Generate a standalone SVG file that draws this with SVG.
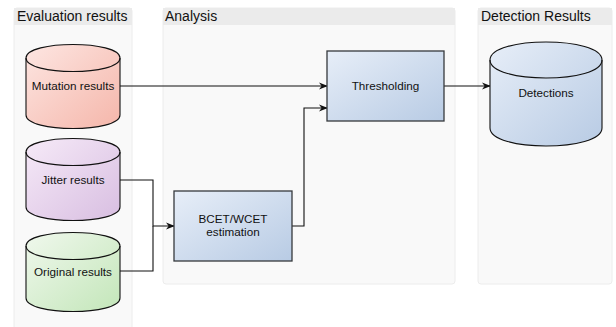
<svg xmlns="http://www.w3.org/2000/svg" width="616" height="327" viewBox="0 0 616 327">
<style>
.lane{fill:#f9f9f9;stroke:#ececec;stroke-width:1}
.band{fill:#ebebeb}
.title{font-family:"Liberation Sans",Arial,sans-serif;font-size:14px;fill:#111}
.lbl{font-family:"Liberation Sans",Arial,sans-serif;font-size:11.7px;fill:#111;text-anchor:middle}
.cyl{stroke:#111;stroke-width:1.1}
.box{stroke:#36393d;stroke-width:1.3}
.edge{fill:none;stroke:#111;stroke-width:1.1}
</style>
<defs>
<linearGradient id="gBlue" x1="0" y1="0" x2="1" y2="1"><stop offset="0" stop-color="#e7eef8"/><stop offset="1" stop-color="#b8cbe4"/></linearGradient>
<linearGradient id="gRed" x1="0" y1="0" x2="1" y2="1"><stop offset="0" stop-color="#fde6e2"/><stop offset="1" stop-color="#f5b6aa"/></linearGradient>
<linearGradient id="gPurple" x1="0" y1="0" x2="1" y2="1"><stop offset="0" stop-color="#f6eaf8"/><stop offset="1" stop-color="#d8bee1"/></linearGradient>
<linearGradient id="gGreen" x1="0" y1="0" x2="1" y2="1"><stop offset="0" stop-color="#f0f8ed"/><stop offset="1" stop-color="#c3e6b9"/></linearGradient>
<marker id="arr" viewBox="0 0 10 10" refX="9" refY="5" markerWidth="9" markerHeight="9" markerUnits="userSpaceOnUse" orient="auto">
<path d="M0,1 L10,5 L0,9 L3,5 Z" fill="#111"/>
</marker>
</defs>

<g id="lane-evaluation">
<rect class="lane" x="14" y="8" width="118" height="340" rx="3"/>
<rect class="band" x="14" y="8" width="118" height="17"/>
<text class="title" x="17" y="21">Evaluation results</text>
</g>
<g id="lane-analysis">
<rect class="lane" x="163" y="8" width="292" height="276" rx="3"/>
<rect class="band" x="163" y="8" width="292" height="17"/>
<text class="title" x="165" y="21">Analysis</text>
</g>
<g id="lane-detection">
<rect class="lane" x="478" y="8" width="134" height="276" rx="3"/>
<rect class="band" x="478" y="8" width="134" height="17"/>
<text class="title" x="481" y="21">Detection Results</text>
</g>

<g id="connectors">
<path class="edge" d="M120,86 H327" marker-end="url(#arr)"/>
<path class="edge" d="M444,86 H490" marker-end="url(#arr)"/>
<path class="edge" d="M292,226 H304 V108 H327" marker-end="url(#arr)"/>
<path class="edge" d="M120,180 H153 V226 H174" marker-end="url(#arr)"/>
<path class="edge" d="M120,271 H153 V226"/>
</g>

<g id="mutation">
<path class="cyl" fill="url(#gRed)" d="M26,58 C26,40 120,40 120,58 V115 C120,133 26,133 26,115 Z"/>
<path class="cyl" fill="none" d="M26,58 C26,76 120,76 120,58"/>
<text class="lbl" x="73" y="90">Mutation results</text>
</g>
<g id="jitter">
<path class="cyl" fill="url(#gPurple)" d="M26,152 C26,134 120,134 120,152 V207 C120,225 26,225 26,207 Z"/>
<path class="cyl" fill="none" d="M26,152 C26,170 120,170 120,152"/>
<text class="lbl" x="73" y="184">Jitter results</text>
</g>
<g id="original">
<path class="cyl" fill="url(#gGreen)" d="M26,246 C26,228 120,228 120,246 V298 C120,316 26,316 26,298 Z"/>
<path class="cyl" fill="none" d="M26,246 C26,264 120,264 120,246"/>
<text class="lbl" x="73" y="276">Original results</text>
</g>

<g id="thresholding">
<rect class="box" x="327" y="51" width="117" height="70" fill="url(#gBlue)"/>
<text class="lbl" x="385.5" y="90">Thresholding</text>
</g>
<g id="bcet">
<rect class="box" x="174" y="191" width="118" height="70" fill="url(#gBlue)"/>
<text class="lbl" x="233" y="223">BCET/WCET</text>
<text class="lbl" x="233" y="236">estimation</text>
</g>

<g id="detections">
<path class="cyl" fill="url(#gBlue)" d="M490,60 C490,36 602,36 602,60 V128 C602,152 490,152 490,128 Z"/>
<path class="cyl" fill="none" d="M490,60 C490,84 602,84 602,60"/>
<text class="lbl" x="546" y="97">Detections</text>
</g>
</svg>
